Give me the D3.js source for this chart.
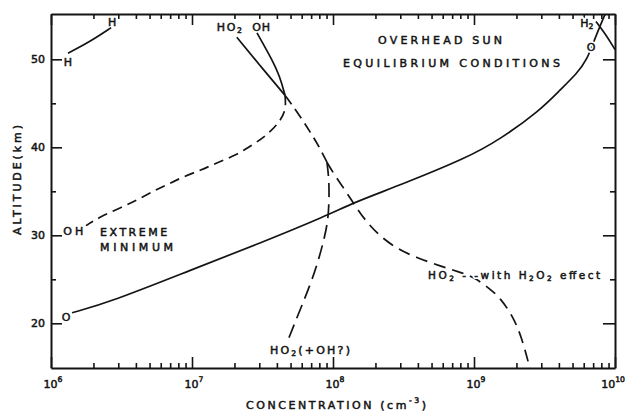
<!DOCTYPE html>
<html><head><meta charset="utf-8">
<script src="https://cdn.jsdelivr.net/npm/d3@7"></script>
<style>
html,body{margin:0;padding:0;background:#fff;}
svg{display:block;}
</style></head><body>
<svg id="chart" width="626" height="412"></svg>
<script>
// Daytime altitude profiles of O, H, OH and HO2 (overhead sun, equilibrium)
const xDecades = [1e6, 1e7, 1e8, 1e9, 1e10];
const xDecadeExponents = ["6", "7", "8", "9", "10"];
const yMajorTicks = [20, 30, 40, 50];
const yMinorTicks = [25, 35, 45];
const yLabels = ["20", "30", "40", "50"];

// atomic oxygen (solid)
const oConc = [1.41e6, 2.62e6, 1.0e7, 3.03e7, 9.23e7, 1.39e8, 2.99e8, 8.91e8, 1.53e9, 2.94e9, 4.07e9, 5.37e9, 6.32e9, 7.21e9, 8.49e9];
const oAlt  = [21.2, 22.4, 26.1, 29.1, 32.3, 33.7, 35.7, 38.8, 40.9, 44.2, 46.5, 48.4, 49.9, 52.4, 55.1];

// atomic hydrogen (solid, top left)
const hConc = [1.32e6, 1.89e6, 2.67e6];
const hAlt  = [50.7, 52.0, 53.6];

// molecular hydrogen (solid, top right)
const h2Conc = [7.33e9, 8.63e9, 1.0e10];
const h2Alt  = [54.3, 52.8, 51.1];

// HO2 and OH above 46 km (solid)
const ho2UpperConc = [2.08e7, 3.03e7, 4.57e7];
const ho2UpperAlt  = [52.5, 49.3, 45.9];
const ohUpperConc = [2.89e7, 3.69e7, 4.21e7, 4.57e7];
const ohUpperAlt  = [53.0, 50.0, 48.0, 45.9];

// OH extreme minimum (dashed)
const ohMinConc = [4.57e7, 4.65e7, 4.14e7, 3.40e7, 2.71e7, 2.05e7, 1.48e7, 1.16e7, 8.77e6, 6.76e6, 5.29e6, 4.07e6, 3.08e6, 2.23e6, 1.77e6];
const ohMinAlt  = [45.9, 44.2, 42.8, 41.4, 40.3, 39.1, 38.2, 37.4, 36.7, 35.8, 35.0, 34.0, 33.1, 32.1, 31.1];

// HO2 below 46 km, common part (dashed)
const ho2StemConc = [4.57e7, 5.65e7, 6.98e7, 8.09e7, 9.06e7];
const ho2StemAlt  = [45.9, 43.9, 41.6, 39.9, 38.3];

// HO2 with H2O2 effect (dashed)
const ho2H2o2Conc = [9.06e7, 1.03e8, 1.22e8, 1.43e8, 1.69e8, 2.15e8, 2.89e8, 3.88e8, 5.74e8, 8.00e8, 1.01e9, 1.30e9, 1.53e9, 1.89e9, 2.19e9, 2.49e9];
const ho2H2o2Alt  = [38.3, 36.8, 35.1, 33.4, 31.7, 29.9, 28.4, 27.5, 26.5, 25.8, 25.2, 23.9, 22.9, 20.8, 18.3, 14.9];

// HO2 (+OH?) (long dashes)
const ho2OhConc = [9.06e7, 9.38e7, 9.38e7, 9.23e7, 8.63e7, 7.83e7, 6.87e7, 5.83e7, 4.80e7];
const ho2OhAlt  = [38.3, 36.3, 34.0, 31.7, 29.5, 27.0, 24.3, 21.5, 18.1];

const ink = "#141414";
const plot = {left: 51, right: 615, top: 14, bottom: 368};

const svg = d3.select("#chart");
const x = d3.scaleLog().domain([1e6, 1e10]).range([plot.left, plot.right]);
const y = d3.scaleLinear().domain([14.92, 55.15]).range([plot.bottom, plot.top]);

const minorX = [];
xDecades.slice(0, -1).forEach(d => { for (let k = 2; k <= 9; k++) minorX.push(k * d); });

const fontFamily = "'DejaVu Sans', Verdana, sans-serif";

function styleAxis(g) {
  g.select(".domain").attr("stroke", ink).attr("stroke-width", 2);
  g.selectAll(".tick line").attr("stroke", ink).attr("stroke-width", 1.6);
  g.selectAll(".tick text").remove();
}

// frame and ticks, all pointing inward
svg.append("g").attr("transform", `translate(0,${plot.bottom})`)
  .call(d3.axisBottom(x).tickValues(xDecades).tickSizeInner(-11).tickSizeOuter(0).tickFormat(""))
  .call(styleAxis);
svg.append("g").attr("transform", `translate(0,${plot.bottom})`)
  .call(d3.axisBottom(x).tickValues(minorX).tickSizeInner(-5).tickSizeOuter(0).tickFormat(""))
  .call(styleAxis).select(".domain").remove();
svg.append("g").attr("transform", `translate(0,${plot.top})`)
  .call(d3.axisTop(x).tickValues(xDecades).tickSizeInner(-11).tickSizeOuter(0).tickFormat(""))
  .call(styleAxis);
svg.append("g").attr("transform", `translate(0,${plot.top})`)
  .call(d3.axisTop(x).tickValues(minorX).tickSizeInner(-5).tickSizeOuter(0).tickFormat(""))
  .call(styleAxis).select(".domain").remove();
svg.append("g").attr("transform", `translate(${plot.left},0)`)
  .call(d3.axisLeft(y).tickValues(yMajorTicks).tickSizeInner(-11).tickSizeOuter(0).tickFormat(""))
  .call(styleAxis);
svg.append("g").attr("transform", `translate(${plot.left},0)`)
  .call(d3.axisLeft(y).tickValues(yMinorTicks).tickSizeInner(-5).tickSizeOuter(0).tickFormat(""))
  .call(styleAxis).select(".domain").remove();
svg.append("g").attr("transform", `translate(${plot.right},0)`)
  .call(d3.axisRight(y).tickValues(yMajorTicks).tickSizeInner(-12).tickSizeOuter(0).tickFormat(""))
  .call(styleAxis);
svg.append("g").attr("transform", `translate(${plot.right},0)`)
  .call(d3.axisRight(y).tickValues(yMinorTicks).tickSizeInner(-5).tickSizeOuter(0).tickFormat(""))
  .call(styleAxis).select(".domain").remove();

// text helper: segments may carry sub/sup flags
function addText(parent, segs, px, py, opts = {}) {
  const size = opts.size || 11;
  const make = (halo) => {
    const t = parent.append("text")
      .attr("x", px).attr("y", py)
      .attr("font-family", fontFamily)
      .attr("font-size", size)
      .attr("text-anchor", opts.anchor || "start")
      .attr("dominant-baseline", "central")
      .attr("fill", halo ? "#fff" : ink)
      .attr("stroke", halo ? "#fff" : ink)
      .attr("stroke-width", halo ? 4 : 0.5)
      .attr("stroke-linejoin", "round");
    if (opts.rotate) t.attr("transform", `rotate(${opts.rotate},${px},${py})`);
    if (opts.length) t.attr("textLength", opts.length).attr("lengthAdjust", "spacing");
    let shift = 0;
    segs.forEach(s => {
      const sp = t.append("tspan").text(s.t);
      const want = s.sub ? 3 : s.sup ? -5 : 0;
      if (want !== shift) { sp.attr("dy", want - shift); shift = want; }
      if (s.sub || s.sup) sp.attr("font-size", size * 0.7);
    });
    return t;
  };
  if (opts.halo) make(true);
  return make(false);
}

// curves
const line = d3.line().x(d => x(d[0])).y(d => y(d[1])).curve(d3.curveBasis);
const pairs = (c, a) => c.map((v, i) => [v, a[i]]);
const curves = svg.append("g").attr("fill", "none").attr("stroke", ink).attr("stroke-linecap", "butt");

function drawCurve(c, a, dash, width) {
  curves.append("path").datum(pairs(c, a)).attr("d", line)
    .attr("stroke-width", width || 1.7)
    .attr("stroke-dasharray", dash || null);
}
drawCurve(oConc, oAlt);
drawCurve(hConc, hAlt);
drawCurve(h2Conc, h2Alt);
drawCurve(ho2UpperConc, ho2UpperAlt);
drawCurve(ohUpperConc, ohUpperAlt);
drawCurve(ohMinConc, ohMinAlt, "10 6");
drawCurve(ho2StemConc, ho2StemAlt, "11 6");
drawCurve(ho2H2o2Conc, ho2H2o2Alt, "12 7");
drawCurve(ho2OhConc, ho2OhAlt, "14 7");

// curve and condition labels
const notes = svg.append("g");
addText(notes, [{t: "OVERHEAD SUN"}], x(5.74e8), y(52.2), {anchor: "middle", length: 124});
addText(notes, [{t: "EQUILIBRIUM CONDITIONS"}], x(6.92e8), y(49.6), {anchor: "middle", length: 217});
addText(notes, [{t: "EXTREME"}], x(2.23e6), y(30.4), {length: 67});
addText(notes, [{t: "MINIMUM"}], x(2.23e6), y(28.7), {length: 73});
addText(notes, [{t: "HO"}, {t: "2", sub: true}, {t: "(+OH?)"}], x(3.57e7), y(17.0), {length: 80});
addText(notes, [{t: "HO"}, {t: "2", sub: true}, {t: " - -with H"}, {t: "2", sub: true}, {t: "O"}, {t: "2", sub: true}, {t: " effect"}], x(4.72e8), y(25.5), {length: 172, halo: true, size: 10.5});
addText(notes, [{t: "HO"}, {t: "2", sub: true}], x(1.50e7), y(53.7), {length: 25});
addText(notes, [{t: "OH"}], x(2.67e7), y(53.7), {length: 18});
addText(notes, [{t: "H"}], x(1.32e6), y(49.7), {anchor: "middle"});
addText(notes, [{t: "H"}], x(2.71e6), y(54.2), {anchor: "middle"});
addText(notes, [{t: "OH"}], x(1.22e6), y(30.5), {length: 20});
addText(notes, [{t: "O"}], x(1.28e6), y(20.7), {anchor: "middle"});
addText(notes, [{t: "O"}], x(6.76e9), y(51.4), {anchor: "middle", halo: true});
addText(notes, [{t: "H"}, {t: "2", sub: true}], x(6.32e9), y(54.1), {anchor: "middle", halo: true});

// tick labels
const tickText = svg.append("g");
xDecades.forEach((v, i) => {
  const last = i === xDecades.length - 1;
  addText(tickText, [{t: "10"}, {t: xDecadeExponents[i], sup: true}],
    last ? 625 : x(v) + 2, plot.bottom + 16, {anchor: last ? "end" : "middle"});
});
yMajorTicks.forEach((v, i) => {
  addText(tickText, [{t: yLabels[i]}], plot.left - 6, y(v), {anchor: "end"});
});

// axis titles
addText(svg, [{t: "CONCENTRATION (cm"}, {t: "-3", sup: true}, {t: ")"}], 336, 405, {anchor: "middle", length: 180});
addText(svg, [{t: "ALTITUDE(km)"}], 17, 180, {anchor: "middle", rotate: -90, length: 110});
</script>
</body></html>
